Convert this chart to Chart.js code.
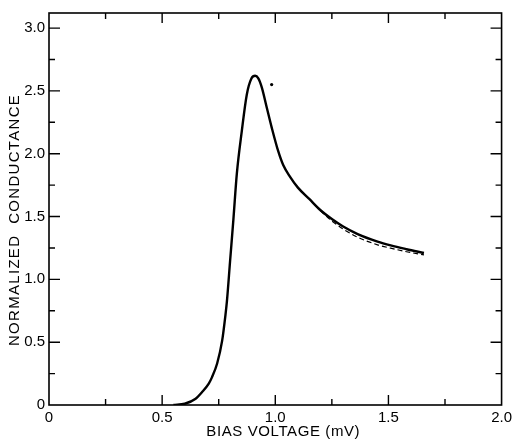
<!DOCTYPE html>
<html>
<head>
<meta charset="utf-8">
<script src="https://cdn.jsdelivr.net/npm/chart.js@4.4.1/dist/chart.umd.min.js"></script>
<style>
  html, body { margin: 0; padding: 0; background: #fff; }
</style>
</head>
<body>
<canvas id="chart" width="516" height="441"></canvas>
<script>
// measured curve (solid)
const biasVoltage = [0.55, 0.60, 0.648, 0.675, 0.706, 0.72, 0.743, 0.765, 0.78, 0.786, 0.80, 0.815, 0.83, 0.852, 0.874, 0.895, 0.911, 0.925, 0.94, 0.962, 0.984, 1.013, 1.035, 1.064, 1.10, 1.15, 1.20, 1.25, 1.30, 1.364, 1.452, 1.51, 1.58, 1.657];
const conductance = [0, 0.01, 0.05, 0.10, 0.17, 0.22, 0.33, 0.51, 0.72, 0.82, 1.14, 1.48, 1.84, 2.18, 2.47, 2.60, 2.62, 2.60, 2.53, 2.37, 2.21, 2.02, 1.91, 1.82, 1.73, 1.64, 1.55, 1.48, 1.42, 1.36, 1.30, 1.27, 1.24, 1.21];

// theory curve (dashed), only visible on the tail
const dashedVoltage = [1.15, 1.20, 1.25, 1.30, 1.364, 1.452, 1.51, 1.58, 1.657];
const dashedConductance = [1.64, 1.545, 1.465, 1.40, 1.335, 1.275, 1.248, 1.22, 1.195];

// stray dot near the peak
const dotVoltage = [0.984];
const dotConductance = [2.55];

const xTickValues = [0, 0.5, 1.0, 1.5, 2.0];
const xTickLabels = ['0', '0.5', '1.0', '1.5', '2.0'];
const xMinorTicks = [0.25, 0.75, 1.25, 1.75];
const yTickValues = [0, 0.5, 1.0, 1.5, 2.0, 2.5, 3.0];
const yTickLabels = ['0', '0.5', '1.0', '1.5', '2.0', '2.5', '3.0'];
const yMinorTicks = [0.25, 0.75, 1.25, 1.75, 2.25, 2.75];

const ink = '#000';
const toPoints = (xs, ys) => xs.map((x, i) => ({ x: x, y: ys[i] }));

// box frame + inward tick marks on all four sides
const framePlugin = {
    id: 'frame',
    afterDraw(chart) {
        const { ctx, chartArea: a, scales } = chart;
        const xs = scales.x, ys = scales.y;
        ctx.save();
        ctx.strokeStyle = ink;
        ctx.lineWidth = 1.6;
        ctx.strokeRect(a.left, a.top, a.right - a.left, a.bottom - a.top);
        ctx.lineWidth = 1.4;
        ctx.beginPath();
        const tickX = (v, len) => {
            const px = xs.getPixelForValue(v);
            ctx.moveTo(px, a.bottom); ctx.lineTo(px, a.bottom - len);
            ctx.moveTo(px, a.top); ctx.lineTo(px, a.top + len);
        };
        const tickY = (v, len) => {
            const py = ys.getPixelForValue(v);
            ctx.moveTo(a.left, py); ctx.lineTo(a.left + len, py);
            ctx.moveTo(a.right, py); ctx.lineTo(a.right - len, py);
        };
        xTickValues.slice(1, -1).forEach(v => tickX(v, 10));
        xMinorTicks.forEach(v => tickX(v, 6));
        yTickValues.slice(1).forEach(v => tickY(v, 11));
        yMinorTicks.forEach(v => tickY(v, 6));
        ctx.stroke();

        // axis titles
        ctx.fillStyle = ink;
        ctx.font = '15px "Liberation Sans", Arial, sans-serif';
        ctx.textAlign = 'center';
        ctx.textBaseline = 'middle';
        ctx.letterSpacing = '0.6px';
        ctx.fillText('BIAS VOLTAGE (mV)', (a.left + a.right) / 2 + 8, 432);
        ctx.translate(15, 220);
        ctx.rotate(-Math.PI / 2);
        ctx.letterSpacing = '1.3px';
        ctx.fillText('NORMALIZED  CONDUCTANCE', 0, 0);
        ctx.restore();
    }
};

new Chart(document.getElementById('chart'), {
    type: 'scatter',
    data: {
        datasets: [
            {
                label: 'measured',
                data: toPoints(biasVoltage, conductance),
                showLine: true,
                borderColor: ink,
                borderWidth: 2.4,
                pointRadius: 0,
                cubicInterpolationMode: 'monotone'
            },
            {
                label: 'theory',
                data: toPoints(dashedVoltage, dashedConductance),
                showLine: true,
                borderColor: ink,
                borderWidth: 1.2,
                borderDash: [5, 3],
                pointRadius: 0,
                cubicInterpolationMode: 'monotone'
            },
            {
                label: 'dot',
                data: toPoints(dotVoltage, dotConductance),
                showLine: false,
                pointRadius: 1.6,
                pointBackgroundColor: ink,
                pointBorderWidth: 0
            }
        ]
    },
    options: {
        responsive: false,
        animation: false,
        devicePixelRatio: 1,
        layout: { padding: { left: 0, right: 11, top: 7, bottom: 0 } },
        plugins: { legend: { display: false }, tooltip: { enabled: false } },
        scales: {
            x: {
                type: 'linear',
                min: 0,
                max: 2.0,
                grid: { display: false, drawTicks: false },
                border: { display: false },
                afterBuildTicks: s => { s.ticks = xTickValues.map(v => ({ value: v })); },
                afterFit: s => { s.height = 36; },
                ticks: {
                    color: ink,
                    padding: 4,
                    maxRotation: 0,
                    autoSkip: false,
                    font: { family: '"Liberation Sans", Arial, sans-serif', size: 15 },
                    callback: (v, i) => xTickLabels[i]
                }
            },
            y: {
                type: 'linear',
                min: 0,
                max: 3.12,
                grid: { display: false, drawTicks: false },
                border: { display: false },
                afterBuildTicks: s => { s.ticks = yTickValues.map(v => ({ value: v })); },
                afterFit: s => { s.width = 49; },
                ticks: {
                    color: ink,
                    padding: 4,
                    autoSkip: false,
                    font: { family: '"Liberation Sans", Arial, sans-serif', size: 15 },
                    callback: (v, i) => yTickLabels[i]
                }
            }
        }
    },
    plugins: [framePlugin]
});
</script>
</body>
</html>
